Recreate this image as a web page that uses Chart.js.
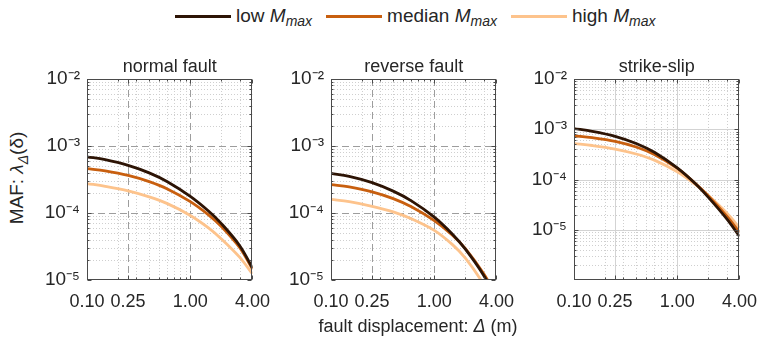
<!DOCTYPE html>
<html>
<head>
<meta charset="utf-8">
<title>Mean annual frequency of fault displacement</title>
<script src="https://cdn.jsdelivr.net/npm/chart.js@4"></script>
<style>
  html, body { margin: 0; padding: 0; background: #fff; }
  body {
    width: 768px; height: 347px; position: relative; overflow: hidden;
    font-family: 'Liberation Sans', Arial, sans-serif; color: #262626;
  }
  .panel { position: absolute; top: 40px; }
  #legend {
    position: absolute; top: 6px; left: 175px; height: 20px;
    display: flex; align-items: center; font-size: 19px; line-height: 20px; white-space: nowrap;
  }
  #legend .item { display: flex; align-items: center; margin-right: 14px; }
  #legend .sw { display: inline-block; width: 56px; height: 3px; margin-right: 5px; }
  sub { font-size: 14px; vertical-align: baseline; position: relative; top: 5px; }
  #ylab {
    position: absolute; left: 17px; top: 178px; font-size: 19px; white-space: nowrap;
    transform: translate(-50%, -50%) rotate(-90deg);
  }
  #xlab {
    position: absolute; left: 418px; top: 326px; font-size: 18px; white-space: nowrap;
    transform: translate(-50%, -50%);
  }
</style>
</head>
<body>

<div id="legend">
  <span class="item"><i class="sw" style="background:#2d1405"></i>low&nbsp;<em>M</em><sub><em>max</em></sub></span>
  <span class="item"><i class="sw" style="background:#c85f0f"></i>median&nbsp;<em>M</em><sub><em>max</em></sub></span>
  <span class="item"><i class="sw" style="background:#fdc38c"></i>high&nbsp;<em>M</em><sub><em>max</em></sub></span>
</div>

<div id="ylab">MAF: <em>λ</em><sub><em>Δ</em></sub>(δ)</div>

<canvas class="panel" id="p1" width="254" height="280" style="left:27px"></canvas>
<canvas class="panel" id="p2" width="254" height="280" style="left:271px"></canvas>
<canvas class="panel" id="p3" width="254" height="280" style="left:514px"></canvas>

<div id="xlab">fault displacement: <em>Δ</em> (m)</div>

<script>
// ── DATA ───────────────────────────────────────────────────────
const dispX = [0.1, 0.15, 0.25, 0.4, 0.6, 1.0, 1.5, 2.0, 3.0, 4.0];   // fault displacement (m)

const normalLow  = [6.9e-4, 6.24e-4, 5.14e-4, 3.97e-4, 2.93e-4, 1.77e-4, 1.07e-4, 6.95e-5, 3.28e-5, 1.51e-5];
const normalMed  = [4.6e-4, 4.25e-4, 3.64e-4, 2.94e-4, 2.29e-4, 1.48e-4, 9.4e-5, 6.3e-5, 3.06e-5, 1.45e-5];
const normalHigh = [2.75e-4, 2.5e-4, 2.14e-4, 1.74e-4, 1.38e-4, 9.2e-5, 6.0e-5, 4.1e-5, 2.19e-5, 1.23e-5];

const reverseLow  = [3.9e-4, 3.52e-4, 2.84e-4, 2.12e-4, 1.52e-4, 8.7e-5, 4.83e-5, 2.88e-5, 1.18e-5, 5.3e-6];
const reverseMed  = [2.66e-4, 2.45e-4, 2.07e-4, 1.64e-4, 1.24e-4, 7.7e-5, 4.66e-5, 2.94e-5, 1.25e-5, 5.8e-6];
const reverseHigh = [1.6e-4, 1.48e-4, 1.26e-4, 1.04e-4, 8.2e-5, 5.5e-5, 3.37e-5, 2.12e-5, 8.7e-6, 3.9e-6];

const strikeLow  = [1.03e-3, 9.1e-4, 7.24e-4, 5.21e-4, 3.48e-4, 1.7e-4, 8.2e-5, 4.4e-5, 1.66e-5, 7.4e-6];
const strikeMed  = [7.4e-4, 6.78e-4, 5.73e-4, 4.43e-4, 3.13e-4, 1.66e-4, 8.3e-5, 4.68e-5, 1.88e-5, 8.9e-6];
const strikeHigh = [5.2e-4, 4.75e-4, 4.04e-4, 3.22e-4, 2.43e-4, 1.42e-4, 7.9e-5, 4.8e-5, 2.18e-5, 1.09e-5];

const seriesNames = ['low Mmax', 'median Mmax', 'high Mmax'];
const panelTitles = ['normal fault', 'reverse fault', 'strike-slip'];

// ticks
const majorX = [0.1, 0.25, 1, 4];
const minorX = [0.2, 0.3, 0.4, 0.5, 0.6, 0.7, 0.8, 0.9, 2, 3];
const majorY = [1e-5, 1e-4, 1e-3, 1e-2];

// ── STYLE ──────────────────────────────────────────────────────
const colors = ['#2d1405', '#c85f0f', '#fdc38c'];
const fontFam = "'Liberation Sans', Arial, sans-serif";
const textCol = '#262626';
const sup = { '-': '\u207B', '0': '\u2070', '1': '\u00B9', '2': '\u00B2', '3': '\u00B3',
              '4': '\u2074', '5': '\u2075', '6': '\u2076' };

// minor decade ticks 2..9 x 10^k between min and max
function minorYFor(min, max) {
  const out = [];
  for (let k = Math.floor(Math.log10(min)); k < Math.ceil(Math.log10(max)); k++) {
    for (let m = 2; m <= 9; m++) out.push(m * Math.pow(10, k));
  }
  return out;
}

function seg(ctx, x1, y1, x2, y2) {
  ctx.beginPath(); ctx.moveTo(x1, y1); ctx.lineTo(x2, y2); ctx.stroke();
}

// MATLAB-like grid, box and inward ticks
const matlabAxes = {
  id: 'matlabAxes',
  beforeDatasetsDraw(chart, args, opts) {
    const { ctx, chartArea: a, scales: { x, y } } = chart;
    const px = v => Math.round(x.getPixelForValue(v)) + 0.5;
    const py = v => Math.round(y.getPixelForValue(v)) + 0.5;
    ctx.save();
    ctx.lineWidth = 1;
    // minor dotted grid
    ctx.strokeStyle = '#cfcfcf';
    ctx.setLineDash([1, 2]);
    minorX.forEach(v => seg(ctx, px(v), a.top, px(v), a.bottom));
    minorYFor(y.min, y.max).forEach(v => seg(ctx, a.left, py(v), a.right, py(v)));
    // major grid
    ctx.strokeStyle = opts.dashed ? '#9d9d9d' : '#d3d3d3';
    ctx.setLineDash(opts.dashed ? [7, 4] : []);
    majorX.filter(v => v > x.min && v < x.max).forEach(v => seg(ctx, px(v), a.top, px(v), a.bottom));
    majorY.filter(v => v > y.min && v < y.max).forEach(v => seg(ctx, a.left, py(v), a.right, py(v)));
    ctx.restore();
  },
  afterDatasetsDraw(chart) {
    const { ctx, chartArea: a, scales: { x, y } } = chart;
    const px = v => Math.round(x.getPixelForValue(v)) + 0.5;
    const py = v => Math.round(y.getPixelForValue(v)) + 0.5;
    const L = Math.round(a.left) + 0.5, R = Math.round(a.right) - 0.5;
    const T = Math.round(a.top) + 0.5, B = Math.round(a.bottom) - 0.5;
    ctx.save();
    ctx.strokeStyle = '#4a4a4a';
    ctx.lineWidth = 1;
    ctx.setLineDash([]);
    ctx.strokeRect(L, T, R - L, B - T);
    majorX.forEach(v => { seg(ctx, px(v), B, px(v), B - 4); seg(ctx, px(v), T, px(v), T + 4); });
    minorX.forEach(v => { seg(ctx, px(v), B, px(v), B - 2); seg(ctx, px(v), T, px(v), T + 2); });
    majorY.filter(v => v >= y.min).forEach(v => { seg(ctx, L, py(v), L + 4, py(v)); seg(ctx, R, py(v), R - 4, py(v)); });
    minorYFor(y.min, y.max).forEach(v => { seg(ctx, L, py(v), L + 2, py(v)); seg(ctx, R, py(v), R - 2, py(v)); });
    ctx.restore();
  }
};

function makePanel(id, title, curves, yMin, dashed) {
  new Chart(document.getElementById(id), {
    type: 'line',
    data: {
      datasets: curves.map((vals, i) => ({
        label: seriesNames[i],
        data: dispX.map((d, j) => ({ x: d, y: vals[j] })),
        borderColor: colors[i],
        backgroundColor: colors[i],
        borderWidth: 2.8,
        pointRadius: 0,
        tension: 0.35
      }))
    },
    plugins: [matlabAxes],
    options: {
      responsive: false,
      animation: false,
      layout: { padding: { top: 15.9, right: 20, bottom: 0, left: 0 } },
      plugins: {
        legend: { display: false },
        tooltip: { enabled: false },
        title: {
          display: true, text: title, fullSize: false, color: textCol,
          font: { family: fontFam, size: 18, weight: 'normal' },
          padding: { top: 0, bottom: 1.5 }
        },
        matlabAxes: { dashed }
      },
      scales: {
        x: {
          type: 'logarithmic', min: 0.1, max: 4,
          afterBuildTicks: s => { s.ticks = majorX.map(v => ({ value: v })); },
          afterFit: s => { s.height = 40; },
          grid: { display: false, drawTicks: false },
          border: { display: false },
          ticks: {
            padding: 11, autoSkip: false, maxRotation: 0, color: textCol,
            font: { family: fontFam, size: 18 },
            callback: v => Number(v).toFixed(2)
          }
        },
        y: {
          type: 'logarithmic', min: yMin, max: 1e-2,
          afterBuildTicks: s => { s.ticks = majorY.filter(v => v >= s.min).map(v => ({ value: v })); },
          afterFit: s => { s.width = 60; },
          grid: { display: false, drawTicks: false },
          border: { display: false },
          ticks: {
            padding: 7, autoSkip: false, color: textCol,
            font: { family: fontFam, size: 19 },
            callback: v => '10' + String(Math.round(Math.log10(v))).split('').map(c => sup[c]).join('')
          }
        }
      }
    }
  });
}

makePanel('p1', panelTitles[0], [normalLow, normalMed, normalHigh], 1e-5, true);
makePanel('p2', panelTitles[1], [reverseLow, reverseMed, reverseHigh], 1e-5, true);
makePanel('p3', panelTitles[2], [strikeLow, strikeMed, strikeHigh], 1e-6, false);
</script>
</body>
</html>
